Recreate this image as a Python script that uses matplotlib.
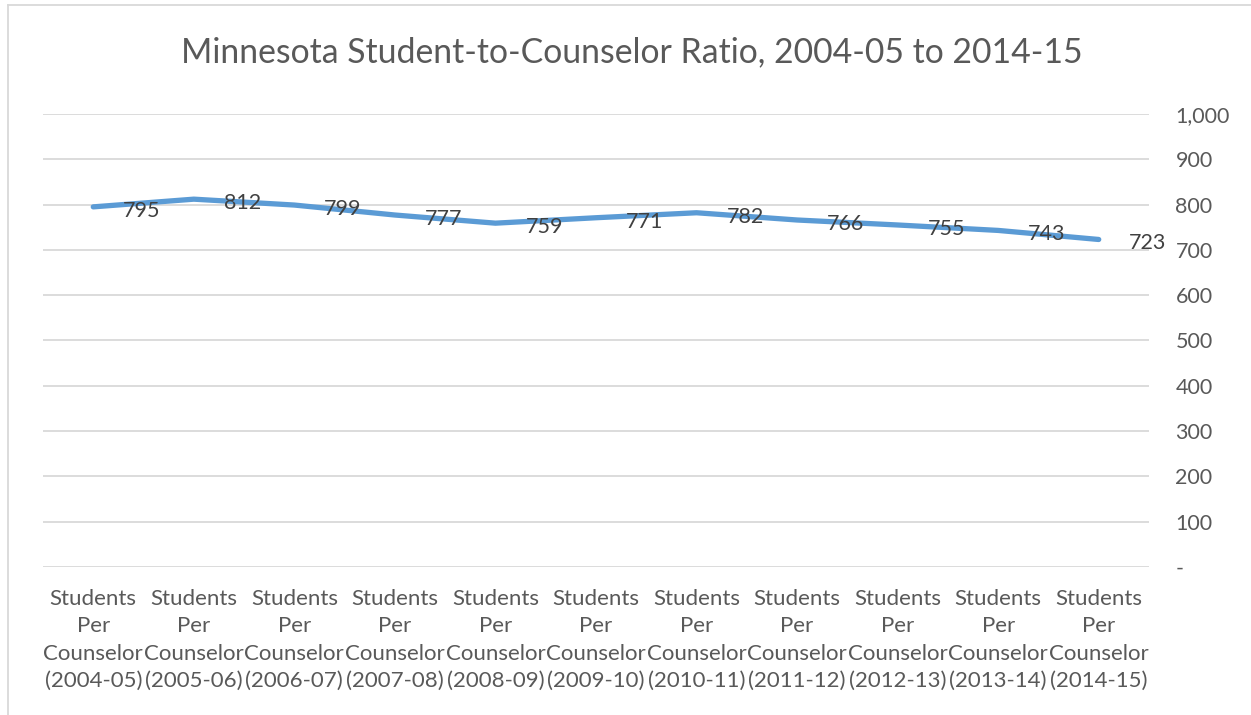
import matplotlib
matplotlib.use("Agg")
import matplotlib.pyplot as plt
from matplotlib.lines import Line2D

plt.rcParams['font.family'] = ['Lato', 'DejaVu Sans']

years = ["2004-05", "2005-06", "2006-07", "2007-08", "2008-09", "2009-10",
         "2010-11", "2011-12", "2012-13", "2013-14", "2014-15"]
ratios = [795, 812, 799, 777, 759, 771, 782, 766, 755, 743, 723]
categories = [f"Students\nPer\nCounselor\n({y})" for y in years]
yticks = [0, 100, 200, 300, 400, 500, 600, 700, 800, 900, 1000]
ytick_labels = ["-"] + [f"{v:,}" for v in yticks[1:]]
title = "Minnesota Student-to-Counselor Ratio, 2004-05 to 2014-15"

fig = plt.figure(figsize=(12.51, 7.15), dpi=100)
ax = fig.add_axes([43/1251, 1-567/715, (1149-43)/1251, (567-114)/715])

x = list(range(len(ratios)))
ax.plot(x, ratios, color="#5B9BD5", lw=3.8, solid_capstyle="round", zorder=3)
for xi, v in zip(x, ratios):
    ax.annotate(f"{v}", (xi, v), xytext=(30, -4), textcoords="offset pixels",
                ha="left", va="center", fontsize=15.5, color="#404040", zorder=4)

ax.set_xlim(-0.5, len(ratios) - 0.5)
ax.set_ylim(0, 1000)
ax.set_yticks(yticks)
ax.set_yticklabels(ytick_labels)
ax.yaxis.tick_right()
ax.grid(axis="y", color="#D9D9D9", lw=1.3)
ax.set_axisbelow(True)
for s in ax.spines.values():
    s.set_visible(False)
ax.tick_params(axis="y", length=0, pad=19, labelsize=15.5, labelcolor="#595959")
for lab in ax.get_yticklabels():
    lab.set_horizontalalignment("left")
ax.set_xticks(x)
ax.set_xticklabels(categories, linespacing=1.45)
ax.tick_params(axis="x", length=0, pad=16, labelsize=16, labelcolor="#595959")

fig.text(0.505, 1-52/715, title, ha="center", va="center", fontsize=24.3,
         color="#595959")

# chart border (top and left visible)
fig.add_artist(Line2D([8/1251, 8/1251], [0, 1-5/715], transform=fig.transFigure, color="#D9D9D9", lw=1.3))
fig.add_artist(Line2D([8/1251, 1], [1-5/715, 1-5/715], transform=fig.transFigure, color="#D9D9D9", lw=1.3))

fig.savefig("out.png", dpi=100)
